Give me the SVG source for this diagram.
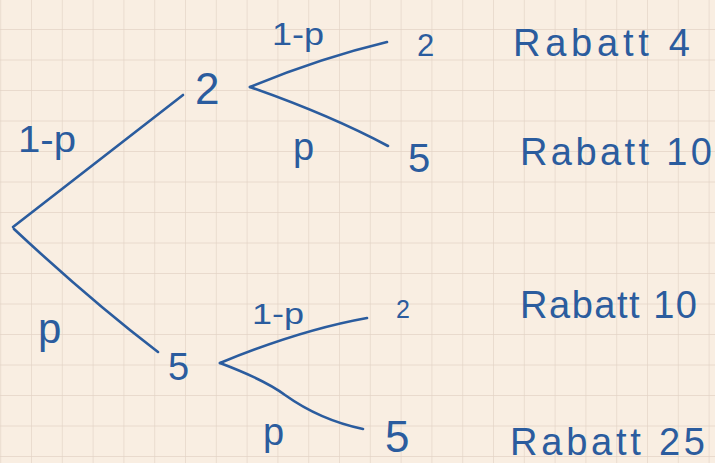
<svg xmlns="http://www.w3.org/2000/svg" width="715" height="463" viewBox="0 0 715 463">
  <defs>
    <pattern id="grid" x="1.2" y="-0.5" width="30.8" height="30.5" patternUnits="userSpaceOnUse">
      <path d="M30.8 0 V30.5 M0 30.5 H30.8" fill="none" stroke="#e3d3c6" stroke-width="1.3"/>
    </pattern>
    <style>
      .ink { fill: none; stroke: #2b5c9e; stroke-width: 2.6; stroke-linecap: round; stroke-linejoin: round; }
      .t { fill: #2b5c9e; font-family: "Liberation Sans", "DejaVu Sans", sans-serif; }
      .rab { font-size: 38px; }
    </style>
  </defs>

  <!-- squared paper -->
  <rect width="715" height="463" fill="#f9eee2"/>
  <rect width="715" height="463" fill="url(#grid)"/>

  <!-- branches -->
  <g id="connectors">
    <path class="ink" d="M13 227 L183 95"/>
    <path class="ink" d="M14 229 Q90 300 158 352"/>
    <path class="ink" d="M250 87 Q320 58 387 42"/>
    <path class="ink" d="M250 87 Q330 115 388 146"/>
    <path class="ink" d="M220 363 Q300 330 367 318"/>
    <path class="ink" d="M220 363 Q265 380 285 395 Q320 420 363 429"/>
  </g>

  <!-- edge probabilities -->
  <g id="edge-labels">
    <text class="t" x="18" y="152" font-size="36" textLength="58" lengthAdjust="spacingAndGlyphs">1-p</text>
    <text class="t" x="38" y="343" font-size="42">p</text>
    <text class="t" x="272" y="45" font-size="32" textLength="52" lengthAdjust="spacingAndGlyphs">1-p</text>
    <text class="t" x="293" y="160" font-size="38">p</text>
    <text class="t" x="252" y="324" font-size="30" textLength="52" lengthAdjust="spacingAndGlyphs">1-p</text>
    <text class="t" x="263" y="445" font-size="38">p</text>
  </g>

  <g id="node-root"/>
  <g id="node-a">
    <text class="t" x="195" y="104" font-size="44">2</text>
  </g>
  <g id="node-b">
    <text class="t" x="168" y="380" font-size="38">5</text>
  </g>
  <g id="leaf-aa">
    <text class="t" x="417" y="56" font-size="31">2</text>
  </g>
  <g id="leaf-ab">
    <text class="t" x="408" y="172" font-size="40">5</text>
  </g>
  <g id="leaf-ba">
    <text class="t" x="396" y="318" font-size="25">2</text>
  </g>
  <g id="leaf-bb">
    <text class="t" x="385" y="452" font-size="44">5</text>
  </g>

  <!-- outcomes -->
  <g id="outcome-1"><text class="t rab" x="513" y="56" textLength="177" lengthAdjust="spacing">Rabatt 4</text></g>
  <g id="outcome-2"><text class="t rab" x="520" y="165" textLength="192" lengthAdjust="spacing">Rabatt 10</text></g>
  <g id="outcome-3"><text class="t rab" x="520" y="318" textLength="177" lengthAdjust="spacing">Rabatt 10</text></g>
  <g id="outcome-4"><text class="t rab" x="510" y="455" textLength="195" lengthAdjust="spacing">Rabatt 25</text></g>
</svg>
